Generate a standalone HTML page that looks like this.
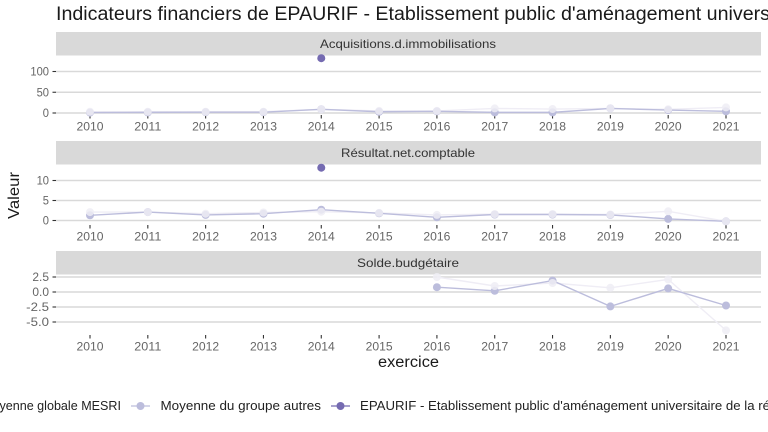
<!DOCTYPE html>
<html lang="fr">
<head>
<meta charset="utf-8">
<title>Indicateurs financiers de EPAURIF</title>
<style>
html,body{margin:0;padding:0;background:#fff;width:768px;height:432px;overflow:hidden}
svg{display:block;font-family:"Liberation Sans",sans-serif}
</style>
</head>
<body>
<svg id="chart" width="768" height="432" viewBox="0 0 768 432" xmlns="http://www.w3.org/2000/svg">
  <rect width="768" height="432" fill="#fff"/>
  <text x="56" y="20" font-size="19" fill="#1a1a1a" textLength="714" lengthAdjust="spacingAndGlyphs">Indicateurs financiers de EPAURIF - Etablissement public d'aménagement univers</text>
  <text transform="translate(19,195.5) rotate(-90)" text-anchor="middle" font-size="15.5" fill="#1a1a1a" textLength="47" lengthAdjust="spacingAndGlyphs">Valeur</text>
  <text x="378" y="367" font-size="15.5" fill="#1a1a1a" textLength="61" lengthAdjust="spacingAndGlyphs">exercice</text>
  <g>
    <text x="-18" y="410" font-size="12.5" fill="#222" textLength="139" lengthAdjust="spacingAndGlyphs">Moyenne globale MESRI</text>
    <line x1="131" x2="150" y1="406" y2="406" stroke="#BCBDDC" stroke-width="1.3"/>
    <circle cx="140.5" cy="406" r="4" fill="#BCBDDC"/>
    <text x="160.5" y="410" font-size="12.5" fill="#222" textLength="160.5" lengthAdjust="spacingAndGlyphs">Moyenne du groupe autres</text>
    <line x1="331" x2="350" y1="406" y2="406" stroke="#756BB1" stroke-width="1.3"/>
    <circle cx="340.5" cy="406" r="4" fill="#756BB1"/>
    <text x="360" y="410" font-size="12.5" fill="#222" textLength="410" lengthAdjust="spacingAndGlyphs">EPAURIF - Etablissement public d'aménagement universitaire de la ré</text>
  </g>
</svg>
<script>
const years = [2010, 2011, 2012, 2013, 2014, 2015, 2016, 2017, 2018, 2019, 2020, 2021];

const acquisitionsGlobal = [3, 3, 3, 3, 9, 5, 5, 11, 9.5, 11, 9, 13.5];
const acquisitionsGroup = [1, 1.5, 2, 2, 9, 3, 4, 1.5, 1.5, 11, 7, 4];
const acquisitionsEpaurif = [null, null, null, null, 132, null, null, null, null, null, null, null];

const resultatGlobal = [2.1, 2.1, 1.7, 2, 2.2, 1.9, 1.4, 1.6, 1.6, 1.5, 2.3, -0.2];
const resultatGroup = [1.3, 2.1, 1.4, 1.7, 2.7, 1.8, 0.8, 1.5, 1.5, 1.4, 0.4, -0.2];
const resultatEpaurif = [null, null, null, null, 13.2, null, null, null, null, null, null, null];

const soldeGlobal = [null, null, null, null, null, null, 2.5, 1, 1.5, 0.7, 2.1, -6.4];
const soldeGroup = [null, null, null, null, null, null, 0.8, 0.2, 1.9, -2.4, 0.6, -2.25];
const soldeEpaurif = [null, null, null, null, null, null, null, null, null, null, null, null];

const acquisitionsTicks = [0, 50, 100];
const acquisitionsTickLabels = ["0", "50", "100"];
const resultatTicks = [0, 5, 10];
const resultatTickLabels = ["0", "5", "10"];
const soldeTicks = [-5, -2.5, 0, 2.5];
const soldeTickLabels = ["-5.0", "-2.5", "0.0", "2.5"];

const NS = "http://www.w3.org/2000/svg";
const svg = document.getElementById("chart");
const COLOR_GLOBAL = "#EFEDF5";
const COLOR_GROUP = "#BCBDDC";
const COLOR_EPAURIF = "#756BB1";

function linear(d0, d1, r0, r1) {
  return function (v) { return r0 + (v - d0) * (r1 - r0) / (d1 - d0); };
}
const xScale = linear(2010, 2021, 90, 726);

function make(tag, attrs, parent) {
  const el = document.createElementNS(NS, tag);
  for (const k in attrs) el.setAttribute(k, attrs[k]);
  parent.appendChild(el);
  return el;
}

function drawLine(parent, values, yScale, color, name) {
  const pts = [];
  values.forEach(function (v, i) {
    if (v !== null) pts.push(xScale(years[i]) + "," + yScale(v));
  });
  if (pts.length < 2) return;
  const el = make("polyline", { points: pts.join(" "), fill: "none", stroke: color, "stroke-width": 1.4 }, parent);
  
  
}

function drawPoints(parent, values, yScale, color, opacity, name) {
  values.forEach(function (v, i) {
    if (v === null) return;
    const el = make("circle", { cx: xScale(years[i]), cy: yScale(v), r: 4, fill: color, "fill-opacity": opacity }, parent);
    
    
  });
}

function drawPanel(cfg) {
  const g = make("g", {}, svg);
  
  

  const strip = make("rect", { x: 56, y: cfg.stripTop, width: 705, height: 23.5, fill: "#D9D9D9" }, g);
  
  

  const stripText = make("text", { x: cfg.stripX, y: cfg.stripTop + 16, "font-size": 12, fill: "#333", textLength: cfg.stripW, lengthAdjust: "spacingAndGlyphs" }, g);
  stripText.textContent = cfg.title;
  
  

  cfg.ticks.forEach(function (t, i) {
    const y = cfg.y(t);
    const grid = make("line", { x1: 56, x2: 761, y1: y, y2: y, stroke: "#D9D9D9", "stroke-width": 1.4 }, g);
    
    
    const tick = make("line", { x1: 52.5, x2: 56, y1: y, y2: y, stroke: "#333", "stroke-width": 1.1 }, g);
    
    
    const label = cfg.tickLabels[i];
    const lbl = make("text", { x: 49, y: y + 4, "text-anchor": "end", "font-size": 11.7, fill: "#666", textLength: label.length * 6.2 - (label.indexOf(".") >= 0 ? 2 : 0), lengthAdjust: "spacingAndGlyphs" }, g);
    lbl.textContent = label;
    
    
  });

  years.forEach(function (yr) {
    const x = xScale(yr);
    const tick = make("line", { x1: x, x2: x, y1: cfg.axisY, y2: cfg.axisY + 3.5, stroke: "#333", "stroke-width": 1.1 }, g);
    
    
    const lbl = make("text", { x: x, y: cfg.axisY + 15.5, "text-anchor": "middle", "font-size": 11.7, fill: "#666", textLength: 27, lengthAdjust: "spacingAndGlyphs" }, g);
    lbl.textContent = String(yr);
    
    
  });

  drawLine(g, cfg.global, cfg.y, COLOR_GLOBAL, cfg.name + '-global-line');
  drawLine(g, cfg.group, cfg.y, COLOR_GROUP, cfg.name + '-group-line');
  drawLine(g, cfg.epaurif, cfg.y, COLOR_EPAURIF, cfg.name + '-epaurif-line');
  drawPoints(g, cfg.epaurif, cfg.y, COLOR_EPAURIF, 1, cfg.name + '-epaurif-point');
  drawPoints(g, cfg.group, cfg.y, COLOR_GROUP, 1, cfg.name + '-group-point');
  drawPoints(g, cfg.global, cfg.y, COLOR_GLOBAL, 0.85, cfg.name + '-global-point');
}

drawPanel({
  name: "acquisitions", title: "Acquisitions.d.immobilisations",
  stripTop: 32, stripX: 320, stripW: 176, axisY: 115,
  y: linear(0, 100, 113, 71.5),
  ticks: acquisitionsTicks, tickLabels: acquisitionsTickLabels,
  global: acquisitionsGlobal, group: acquisitionsGroup, epaurif: acquisitionsEpaurif
});
drawPanel({
  name: "resultat", title: "Résultat.net.comptable",
  stripTop: 141, stripX: 341, stripW: 134, axisY: 225,
  y: linear(0, 10, 220.5, 180.5),
  ticks: resultatTicks, tickLabels: resultatTickLabels,
  global: resultatGlobal, group: resultatGroup, epaurif: resultatEpaurif
});
drawPanel({
  name: "solde", title: "Solde.budgétaire",
  stripTop: 251, stripX: 357, stripW: 102, axisY: 335,
  y: linear(0, 2.5, 292, 277),
  ticks: soldeTicks, tickLabels: soldeTickLabels,
  global: soldeGlobal, group: soldeGroup, epaurif: soldeEpaurif
});
</script>
</body>
</html>
